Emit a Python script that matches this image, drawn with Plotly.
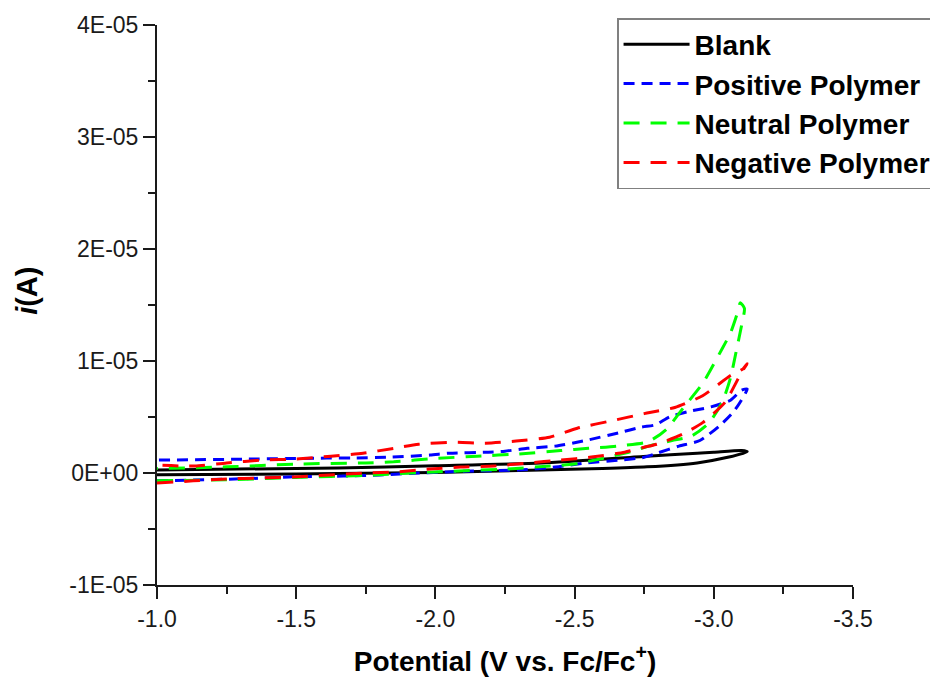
import plotly.graph_objects as go

# ---------------- data ----------------
# Each CV loop: forward (cathodic) scan followed by the return scan. Current in units of 1e-6 A
blank_v = [-1.0, -1.5, -1.65, -2.0, -2.38, -2.6, -2.76, -2.94, -3.05, -3.12,
           -3.10, -3.0, -2.94, -2.76, -2.38, -2.0, -1.65, -1.0]
blank_i = [-0.15, -0.1, -0.05, 0.05, 0.27, 0.4, 0.55, 0.9, 1.4, 1.9,
           2.0, 1.85, 1.77, 1.5, 0.89, 0.65, 0.45, 0.27]

pos_v = [-1.0, -1.33, -1.475, -1.67, -1.80, -1.94, -2.14, -2.30, -2.43, -2.54, -2.66, -2.75,
         -2.80, -2.875, -2.95, -3.02, -3.075, -3.12,
         -3.10, -3.06, -2.99, -2.91, -2.84, -2.79, -2.74, -2.66, -2.54, -2.43, -2.33, -2.25,
         -2.19, -2.05, -1.98, -1.84, -1.70, -1.61, -1.33, -1.0]
pos_i = [-0.7, -0.5, -0.35, -0.27, -0.18, 0.0, 0.18, 0.27, 0.53, 0.9, 1.15, 1.4,
         1.8, 2.4, 2.9, 4.2, 5.6, 7.5,
         7.4, 6.5, 5.9, 5.5, 5.0, 4.3, 4.1, 3.6, 2.9, 2.4, 2.2, 1.95,
         1.86, 1.77, 1.6, 1.42, 1.33, 1.33, 1.24, 1.15]

neu_v = [-1.0, -1.25, -1.5, -1.75, -2.0, -2.25, -2.4, -2.5, -2.6, -2.7, -2.78, -2.85, -2.92,
         -2.98, -3.03, -3.06, -3.08, -3.10, -3.11,
         -3.095, -3.085, -3.06, -3.03, -2.96, -2.89, -2.83, -2.78, -2.75, -2.65, -2.55, -2.45,
         -2.3, -2.15, -2.0, -1.85, -1.75, -1.5, -1.25, -1.0]
neu_i = [-0.7, -0.6, -0.4, -0.2, 0.1, 0.35, 0.6, 0.8, 1.3, 1.9, 2.5, 2.9, 3.3,
         4.4, 6.3, 8.5, 10.8, 13.2, 14.7,
         15.2, 14.3, 12.5, 11.1, 8.0, 5.8, 3.9, 3.0, 2.7, 2.4, 2.2, 2.0,
         1.7, 1.5, 1.3, 1.0, 0.9, 0.8, 0.55, 0.4]

neg_v = [-1.0, -1.13, -1.25, -1.375, -1.49, -1.75, -1.86, -1.98, -2.09, -2.21, -2.33, -2.45,
         -2.56, -2.68, -2.75, -2.80, -2.89, -2.96, -3.04, -3.10, -3.12,
         -3.105, -3.06, -2.96, -2.86, -2.77, -2.75, -2.64, -2.51, -2.41, -2.29, -2.18, -2.07,
         -1.94, -1.85, -1.74, -1.625, -1.5, -1.38, -1.25, -1.135, -1.0]
neg_i = [-0.9, -0.7, -0.53, -0.44, -0.35, 0.0, 0.09, 0.35, 0.53, 0.62, 0.89, 1.15,
         1.42, 1.86, 2.3, 2.6, 3.5, 4.5, 6.3, 9.0, 9.75,
         9.3, 8.7, 6.9, 5.85, 5.4, 5.3, 4.7, 4.0, 3.2, 2.85, 2.66, 2.75,
         2.57, 2.2, 1.77, 1.5, 1.24, 1.15, 0.9, 0.62, 0.7]

series_names = ["Blank", "Positive Polymer", "Neutral Polymer", "Negative Polymer"]

x_tickvals = [-1.0, -1.5, -2.0, -2.5, -3.0, -3.5]
x_ticktext = ["-1.0", "-1.5", "-2.0", "-2.5", "-3.0", "-3.5"]
y_tickvals = [-1e-05, 0, 1e-05, 2e-05, 3e-05, 4e-05]
y_ticktext = ["-1E-05", "0E+00", "1E-05", "2E-05", "3E-05", "4E-05"]
y_minor = [-5e-06, 5e-06, 1.5e-05, 2.5e-05, 3.5e-05]

x_title = "<b>Potential (V vs. Fc/Fc<sup>+</sup>)</b>"
y_title = "<b><i>i</i>(A)</b>"

# ---------------- figure ----------------
def amps(vals):
    return [v * 1e-6 for v in vals]

fig = go.Figure()
styles = [
    (blank_v, blank_i, "#000000", "solid"),
    (pos_v, pos_i, "#0000FF", "11px,7px"),
    (neu_v, neu_i, "#00FF00", "16px,11px"),
    (neg_v, neg_i, "#FF0000", "16px,11px"),
]
for name, (xv, yv, col, dash) in zip(series_names, styles):
    fig.add_trace(go.Scatter(
        x=xv, y=amps(yv), mode="lines", name=name,
        line=dict(color=col, width=3, dash=dash, shape="spline", smoothing=0.6),
    ))

FONT = "Liberation Sans, Arial"
axis_common = dict(
    showline=True, linecolor="#1a1a1a", linewidth=2, mirror=False,
    showgrid=False, zeroline=False,
    ticks="outside", ticklen=12, tickwidth=2, tickcolor="#1a1a1a",
    tickfont=dict(family=FONT, size=23, color="#1a1a1a"),
)

# page body adds an 8 px offset, so margins are measured from (8, 8)
fig.update_layout(
    width=938, height=679,
    margin=dict(l=149, r=93, t=17, b=102, autoexpand=False),
    paper_bgcolor="white", plot_bgcolor="white",
    showlegend=True,
    legend=dict(
        x=0.661, y=1.0125, xanchor="left", yanchor="top",
        bordercolor="#808080", borderwidth=1.5, bgcolor="rgba(255,255,255,0)",
        font=dict(family=FONT, size=28, color="black", weight="bold"),
        tracegroupgap=0, itemwidth=66,
    ),
    xaxis=dict(
        range=[-1.0, -3.5], tickvals=x_tickvals, ticktext=x_ticktext,
        minor=dict(ticks="outside", ticklen=7, tickwidth=2, tickcolor="#1a1a1a", dtick=0.25),
        title=dict(text=x_title,
                   font=dict(family=FONT, size=28, color="black"),
                   standoff=21),
        **axis_common,
    ),
    yaxis=dict(
        range=[-1e-05, 4e-05], tickvals=y_tickvals, ticktext=y_ticktext,
        minor=dict(ticks="outside", ticklen=7, tickwidth=2, tickcolor="#1a1a1a",
                   tickvals=y_minor),
        **axis_common,
    ),
    annotations=[dict(
        text=y_title, textangle=-90, showarrow=False,
        xref="paper", yref="paper", x=-0.187, y=0.525,
        xanchor="center", yanchor="middle",
        font=dict(family=FONT, size=29, color="black"),
    )],
)

fig.write_html("out.html")
